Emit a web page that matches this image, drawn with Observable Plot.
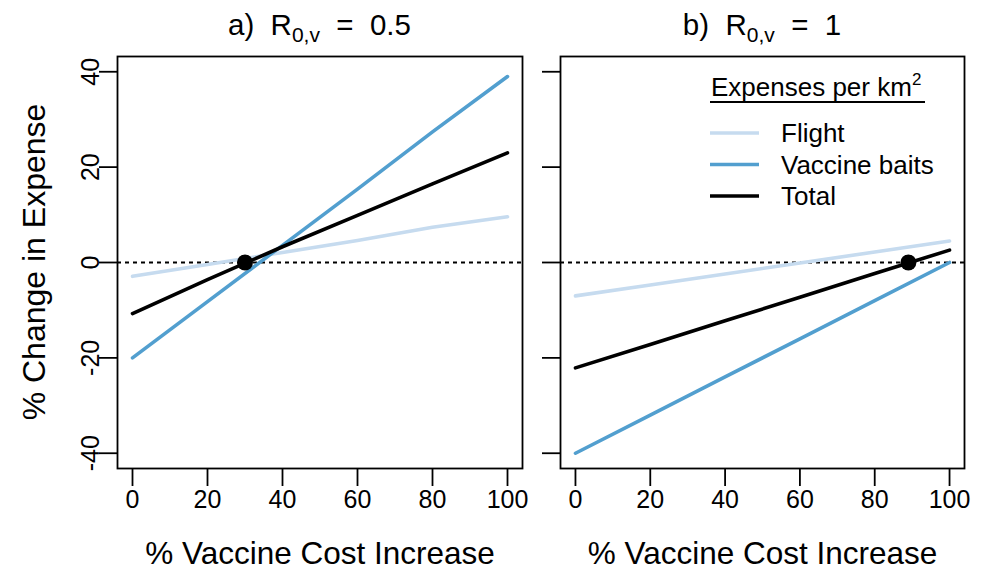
<!DOCTYPE html>
<html>
<head>
<meta charset="utf-8">
<script src="https://cdn.jsdelivr.net/npm/d3@7"></script>
<script src="https://cdn.jsdelivr.net/npm/@observablehq/plot@0.6"></script>
<style>
  body { margin: 0; background: #fff; }
  #chart { position: relative; width: 984px; height: 571px; font-family: "Liberation Sans", Arial, Helvetica, sans-serif; }
  #chart > svg, #chart > div { position: absolute; top: 0; }
  #overlay { left: 0; pointer-events: none; }
</style>
</head>
<body>
<div id="chart"></div>
<script>
// Vaccine cost increase (%) at which each expense is evaluated
const costIncrease = [0, 20, 40, 60, 80, 100];

// Panel a) R0,v = 0.5 — % change in expense per km²
const flightA  = [-2.9, -0.4, 2.1, 4.6, 7.4, 9.6];
const vaccineA = [-20, -8.2, 3.6, 15.4, 27.4, 39];
const totalA   = [-10.7, -3.6, 3.3, 9.9, 16.5, 23.0];

// Panel b) R0,v = 1
const flightB  = [-7.0, -4.7, -2.4, -0.1, 2.2, 4.5];
const vaccineB = [-40, -32, -24, -16, -8, 0];
const totalB   = [-22.1, -17.2, -12.2, -7.3, -2.3, 2.6];

// Break-even cost increase where total expense change is zero
const breakEvenA = [30];
const breakEvenB = [89];

const seriesNames = ["Flight", "Vaccine baits", "Total"];
const seriesColors = ["#c6dbef", "#529fcf", "#000000"];
const xTicks = [0, 20, 40, 60, 80, 100];
const yTicks = [-40, -20, 0, 20, 40];

function tidy(flight, vaccine, total) {
  const rows = [];
  [flight, vaccine, total].forEach((vals, i) => {
    vals.forEach((v, j) => rows.push({series: seriesNames[i], x: costIncrease[j], y: v}));
  });
  return rows;
}

const FONT = "Liberation Sans, Arial, Helvetica, sans-serif";

function panel({data, breakEven, width, marginLeft, marginRight, yLabels}) {
  return Plot.plot({
    width,
    height: 571,
    marginLeft,
    marginRight,
    marginTop: 56,
    marginBottom: 103,
    style: {fontFamily: FONT, fontSize: "25px", background: "transparent", color: "#000"},
    x: {domain: [-4, 104]},
    y: {domain: [-43.2, 43.2]},
    color: {domain: seriesNames, range: seriesColors},
    marks: [
      Plot.axisX({ticks: xTicks, tickSize: 18, tickPadding: 4, fontSize: 25, label: null, strokeWidth: 1.8}),
      Plot.axisY({ticks: yTicks, tickSize: 18, tickPadding: 1, fontSize: 25, tickRotate: -90, label: null, strokeWidth: 1.8,
                  tickFormat: yLabels ? (d => String(d)) : (() => "")}),
      Plot.ruleY([0], {stroke: "#000", strokeWidth: 1.8, strokeDasharray: "4,4"}),
      Plot.line(data, {x: "x", y: "y", z: "series", stroke: "series", strokeWidth: 3.6, strokeLinecap: "round"}),
      Plot.dot(breakEven, {x: d => d, y: () => 0, r: 8, fill: "#000", stroke: null}),
      Plot.frame({stroke: "#000", strokeWidth: 1.8}),
      Plot.text(["% Vaccine Cost Increase"], {frameAnchor: "bottom", dy: 95, lineAnchor: "bottom", fontSize: 31.5, fill: "#000"})
    ]
  });
}

const chart = document.getElementById("chart");

const left = panel({data: tidy(flightA, vaccineA, totalA), breakEven: breakEvenA, width: 540, marginLeft: 117, marginRight: 18, yLabels: true});
left.style.left = "0px";
chart.appendChild(left);

const right = panel({data: tidy(flightB, vaccineB, totalB), breakEven: breakEvenB, width: 444, marginLeft: 20, marginRight: 20, yLabels: false});
right.style.left = "540px";
chart.appendChild(right);

// Titles, shared y label and legend
const overlay = d3.create("svg")
  .attr("id", "overlay")
  .attr("width", 984).attr("height", 571)
  .style("font-family", FONT);

function title(cx, label, value) {
  const t = overlay.append("text").attr("x", cx).attr("y", 35).attr("text-anchor", "middle")
    .attr("font-size", 29.5).attr("fill", "#000").attr("xml:space", "preserve");
  t.append("tspan").text(label + "  R");
  t.append("tspan").attr("font-size", 21).attr("dy", 7).text("0,v");
  t.append("tspan").attr("dy", -7).text("  =  " + value);
}
title(319.5, "a)", "0.5");
title(762, "b)", "1");

overlay.append("text")
  .attr("transform", "translate(45,262) rotate(-90)")
  .attr("text-anchor", "middle").attr("font-size", 32).attr("fill", "#000")
  .text("% Change in Expense");

// Legend
const lg = overlay.append("g");
const lt = lg.append("text").attr("x", 711).attr("y", 96).attr("font-size", 26).attr("fill", "#000");
lt.append("tspan").text("Expenses per km");
lt.append("tspan").attr("font-size", 17).attr("dy", -11).text("2");
lg.append("line").attr("x1", 710).attr("x2", 925).attr("y1", 102).attr("y2", 102).attr("stroke", "#000").attr("stroke-width", 1.8);
seriesNames.forEach((name, i) => {
  const y = 133 + i * 31.5;
  lg.append("line").attr("x1", 710).attr("x2", 759).attr("y1", y).attr("y2", y)
    .attr("stroke", seriesColors[i]).attr("stroke-width", 3.6);
  lg.append("text").attr("x", 781).attr("y", y + 9).attr("font-size", 26).attr("fill", "#000").text(name);
});

chart.appendChild(overlay.node());
</script>
</body>
</html>
